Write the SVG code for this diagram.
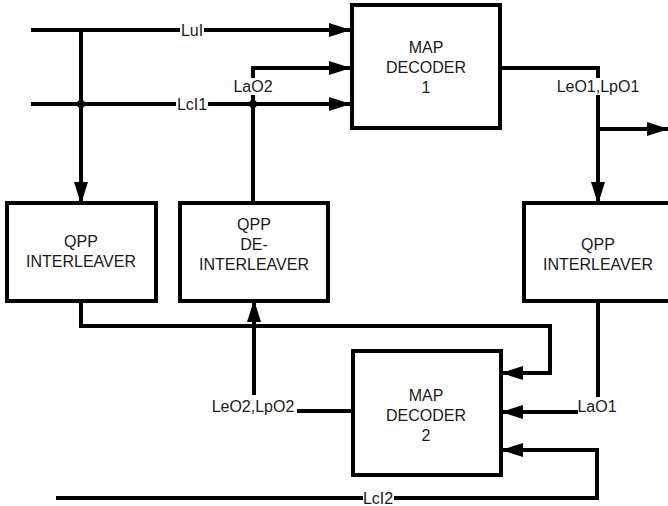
<svg xmlns="http://www.w3.org/2000/svg" width="668" height="506" viewBox="0 0 668 506">
<style>
.box{fill:#fff;stroke:#000;stroke-width:4}
.w{fill:none;stroke:#000;stroke-width:4;stroke-linejoin:miter}
.t{font-family:"Liberation Sans",Arial,sans-serif;font-size:16px;fill:#1a1a1a;text-anchor:middle}
.bg{fill:#fff}
</style>
<defs>
<marker id="ah" markerUnits="userSpaceOnUse" markerWidth="22" markerHeight="16" refX="21" refY="7" orient="auto" viewBox="0 0 22 14">
<path d="M0,0 L22,7 L0,14 z" fill="#000"/>
</marker>
</defs>
<g id="connectors">
<path class="w" d="M31,30 H350" marker-end="url(#ah)"/>
<path class="w" d="M81,30 V203" marker-end="url(#ah)"/>
<path class="w" d="M31,104 H350" marker-end="url(#ah)"/>
<path class="w" d="M253,203 V68 H350" marker-end="url(#ah)"/>
<circle cx="81" cy="104" r="4" fill="#000"/>
<circle cx="253" cy="104" r="4" fill="#000"/>
<path class="w" d="M500,68 H598 V203" marker-end="url(#ah)"/>
<path class="w" d="M598,129 H668" marker-end="url(#ah)"/>
<path class="w" d="M81,301 V326 H550 V373 H502" marker-end="url(#ah)"/>
<path class="w" d="M254,395 V301" marker-end="url(#ah)"/>
<path class="w" d="M297,411 H353"/>
<path class="w" d="M598,301 V412 H502" marker-end="url(#ah)"/>
<path class="w" d="M56,498 H597 V450 H502" marker-end="url(#ah)"/>
<rect class="bg" x="180" y="22" width="24" height="16"/>
<text class="t" x="192" y="36">LuI</text>
<rect class="bg" x="176" y="96" width="32" height="16"/>
<text class="t" x="192" y="110">LcI1</text>
<rect class="bg" x="232" y="78" width="42" height="17"/>
<text class="t" x="253" y="92">LaO2</text>
<rect class="bg" x="556" y="78" width="84" height="17"/>
<text class="t" x="598" y="92">LeO1,LpO1</text>
<rect class="bg" x="210" y="397" width="86" height="17"/>
<text class="t" x="253" y="412">LeO2,LpO2</text>
<rect class="bg" x="578" y="397" width="40" height="17"/>
<text class="t" x="597" y="412">LaO1</text>
<rect class="bg" x="363" y="490" width="31" height="16"/>
<text class="t" x="378" y="504">LcI2</text>
</g>
<g id="map1">
<rect class="box" x="352" y="5" width="148" height="123"/>
<text class="t" x="426" y="53">MAP</text>
<text class="t" x="426" y="73">DECODER</text>
<text class="t" x="426" y="93">1</text>
</g>
<g id="interleaver1">
<rect class="box" x="7" y="203" width="149" height="98"/>
<text class="t" x="81" y="247">QPP</text>
<text class="t" x="81" y="267">INTERLEAVER</text>
</g>
<g id="deinterleaver">
<rect class="box" x="180" y="203" width="148" height="98"/>
<text class="t" x="254" y="230">QPP</text>
<text class="t" x="254" y="250">DE-</text>
<text class="t" x="254" y="270">INTERLEAVER</text>
</g>
<g id="interleaver2">
<rect class="box" x="524" y="203" width="150" height="98"/>
<text class="t" x="598" y="250">QPP</text>
<text class="t" x="598" y="270">INTERLEAVER</text>
</g>
<g id="map2">
<rect class="box" x="353" y="351" width="148" height="124"/>
<text class="t" x="426" y="401">MAP</text>
<text class="t" x="426" y="421">DECODER</text>
<text class="t" x="426" y="441">2</text>
</g>
</svg>
